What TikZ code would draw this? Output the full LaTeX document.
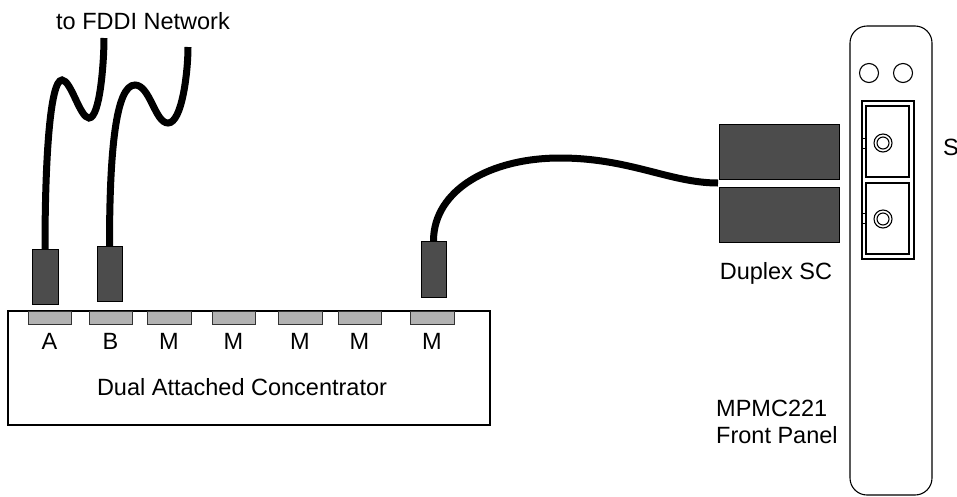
\documentclass[tikz,border=0pt]{standalone}
\usepackage{fontspec}
\setmainfont{Liberation Sans}
\begin{document}
\begin{tikzpicture}[x=1pt,y=-1pt,
  lbl/.style={inner sep=0pt,font=\fontsize{23.5}{27}\selectfont},
  port/.style={draw=black!80,fill=black!30,line width=0.9pt},
  plug/.style={draw=black,fill=black!70,line width=0.9pt},
  cable/.style={line width=7pt,black},
  thin/.style={draw=black,line width=1.1pt}]
\useasboundingbox (0,0) rectangle (957,496);

% concentrator chassis
\draw[thin] (8,311) rectangle (490,425);
\node[lbl] (dac) at (242,387) {Dual Attached Concentrator};

% front ports with their labels
\foreach \n/\xa/\xb/\t in {pA/28/71/A, pB/89/132/B, pM1/147/191/M, pM2/212/255/M,
                           pM3/278/322/M, pM4/338/381/M, pM5/410/454/M}{
  \draw[port] (\xa,311) rectangle (\xb,324);
  \node[lbl] (\n) at ({(\xa+\xb)/2},341) {\t};
}

% plugs seated in ports A, B and the last M
\draw[plug] (32,249) rectangle (58,304);
\coordinate (plugA) at (45,249);
\draw[plug] (97,246) rectangle (122,301);
\coordinate (plugB) at (109.5,246);
\draw[plug] (421,241) rectangle (446,297);
\coordinate (plugM) at (433.5,241);

% ring cables
\coordinate (ringA) at (104,38);
\coordinate (ringB) at (188,47);
\draw[cable] (plugA) .. controls (45,160) and (50,80) .. (62,80)
  .. controls (71,80) and (80,118) .. (89,118)
  .. controls (100,118) and (104,62) .. (ringA);
\draw[cable] (plugB) .. controls (109.5,150) and (116,85) .. (135,85)
  .. controls (150,85) and (155,123) .. (168,123)
  .. controls (182,123) and (188,72) .. (ringB);
\node[lbl] (fddi) at (143,21) {to FDDI Network};

% duplex SC connector
\draw[plug] (719,124) rectangle (839,179);
\draw[plug] (719,187) rectangle (839,242);
\coordinate (duplex) at (718,183);
\node[lbl] (dsc) at (776,273) {Duplex SC};
\draw[cable] (plugM) .. controls (433.5,190) and (490,158) .. (560,158)
  .. controls (630,158) and (670,183) .. (duplex);

% MPMC221 front panel
\draw[thin,rounded corners=17pt] (850,26) rectangle (932,495);
\draw[thin] (869,73) circle (9.5);
\draw[thin] (903,73) circle (9.5);
\draw[thin] (862,101) rectangle (914,259);
\draw[thin] (866,106) rectangle (909,177);
\draw[thin] (866,183) rectangle (909,254);
\foreach \y in {138,148,213,223}{\draw[line width=0.9pt] (862,\y) -- (866,\y);}
\draw[thin] (883,143) circle (9) (883,143) circle (6);
\draw[thin] (883,219) circle (9) (883,219) circle (6);
\node[lbl,anchor=west] (sc) at (943,147) {S};
\node[lbl,anchor=west,align=left] (panel) at (716,422) {MPMC221\\Front Panel};
\end{tikzpicture}
\end{document}
